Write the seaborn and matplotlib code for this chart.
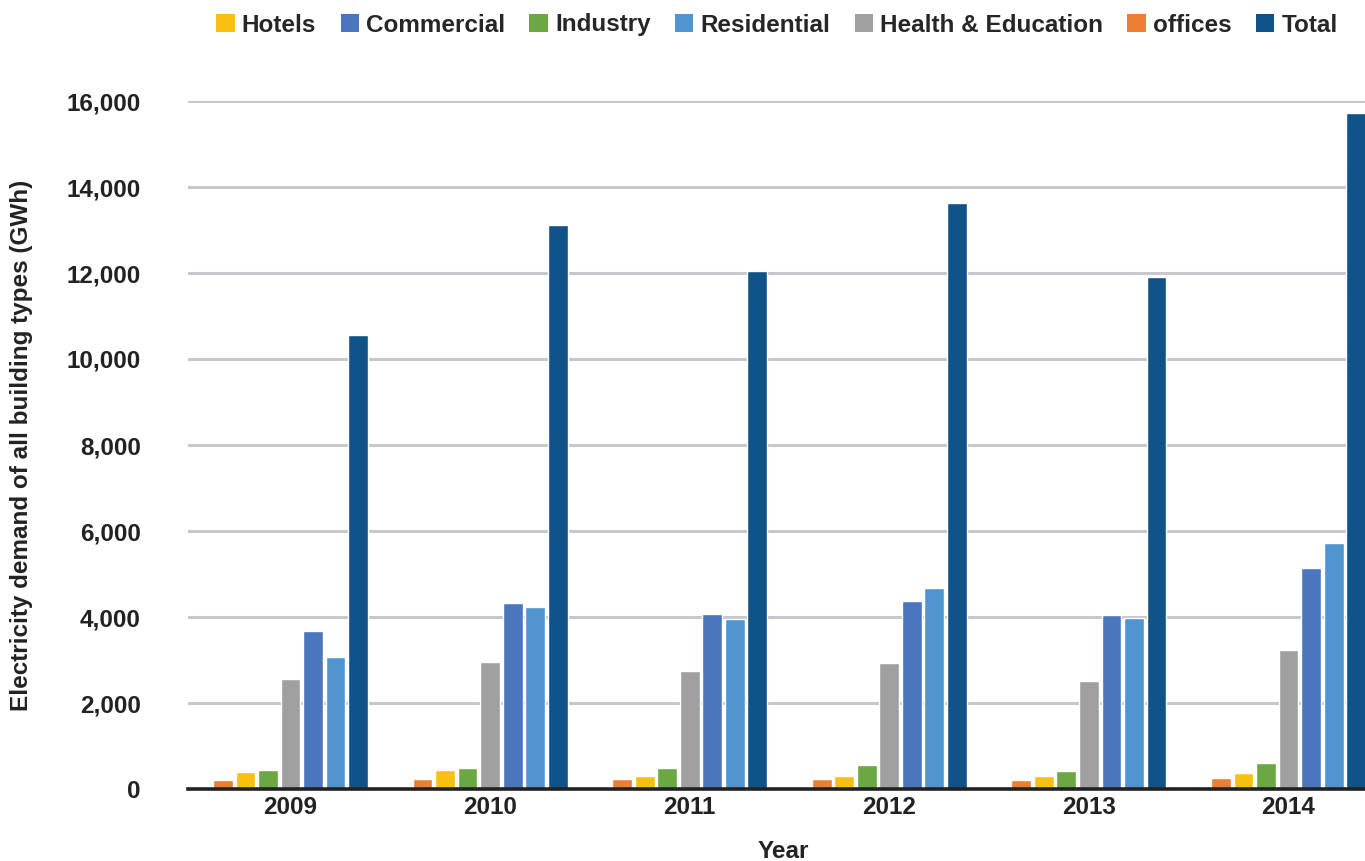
import matplotlib
matplotlib.use("Agg")
import matplotlib.pyplot as plt
import seaborn as sns
import pandas as pd
from matplotlib.patches import Patch

years = ["2009", "2010", "2011", "2012", "2013", "2014"]
offices = [210, 230, 230, 230, 210, 260]
hotels = [395, 440, 300, 300, 300, 370]
industry = [440, 490, 490, 560, 420, 600]
health_education = [2560, 2950, 2740, 2930, 2510, 3230]
commercial = [3670, 4330, 4070, 4370, 4050, 5140]
residential = [3070, 4230, 3950, 4670, 3980, 5720]
total = [10560, 13110, 12040, 13620, 11900, 15720]

series_order = ["offices", "Hotels", "Industry", "Health & Education",
                "Commercial", "Residential", "Total"]
legend_order = ["Hotels", "Commercial", "Industry", "Residential",
                "Health & Education", "offices", "Total"]
colors = {
    "offices": "#ED7D31",
    "Hotels": "#F9C014",
    "Industry": "#6BA743",
    "Health & Education": "#A0A0A0",
    "Commercial": "#4A76BD",
    "Residential": "#5095D0",
    "Total": "#105388",
}
values = {
    "offices": offices, "Hotels": hotels, "Industry": industry,
    "Health & Education": health_education, "Commercial": commercial,
    "Residential": residential, "Total": total,
}

rows = []
for s in series_order:
    for y, v in zip(years, values[s]):
        rows.append({"Year": y, "Type": s, "Value": v})
df = pd.DataFrame(rows)

sns.set_theme(style="white")
plt.rcParams["font.family"] = ["Liberation Sans", "DejaVu Sans"]
plt.rcParams["font.weight"] = "bold"

FS = 17.5
fig = plt.figure(figsize=(13.65, 8.61), dpi=100)
ax = fig.add_axes([188 / 1365, 1 - 789 / 861, 1 - 188 / 1365, (789 - 101) / 861])

sns.barplot(data=df, x="Year", y="Value", hue="Type", order=years,
            hue_order=series_order, palette=colors, width=0.79, gap=0.12,
            saturation=1, ax=ax, legend=False, zorder=3)

ax.set_ylim(0, 16000)
ax.set_xlim(-0.5135, 5.383)
ax.set_yticks(range(0, 16001, 2000))
ax.set_yticklabels([f"{v:,}" for v in range(0, 16001, 2000)])
ax.yaxis.grid(True, color="#C8C8CC", linewidth=2.2, zorder=0)
ax.set_axisbelow(True)
for sp in ["left", "top", "right"]:
    ax.spines[sp].set_visible(False)
ax.spines["bottom"].set_color("#222222")
ax.spines["bottom"].set_linewidth(2.6)
ax.spines["bottom"].set_zorder(5)
ax.tick_params(axis="y", length=0, pad=34, labelsize=FS, labelcolor="#222222")
ax.tick_params(axis="x", length=0, pad=5, labelsize=FS, labelcolor="#222222")
for lbl in ax.get_xticklabels() + ax.get_yticklabels():
    lbl.set_fontweight("bold")

ax.set_xlabel("Year", fontsize=FS, fontweight="bold", color="#222222")
ax.set_ylabel("Electricity demand of all building types (GWh)", fontsize=FS,
              fontweight="bold", color="#222222")
ax.yaxis.set_label_coords(-166 / 1177, 0.5)
ax.yaxis.label.set_va("center")
ax.xaxis.set_label_coords((783 - 188) / 1177, -62 / 688)
ax.xaxis.label.set_va("center")

handles = [Patch(facecolor=colors[s], edgecolor="none", label=s) for s in legend_order]
fig.legend(handles=handles, loc="center", bbox_to_anchor=(777 / 1365, 1 - 25 / 861),
           ncol=7, frameon=False, handlelength=0.75, handleheight=0.75,
           handletextpad=0.3, columnspacing=1.0,
           prop={"weight": "bold", "size": FS})

fig.savefig("out.png", dpi=100)
